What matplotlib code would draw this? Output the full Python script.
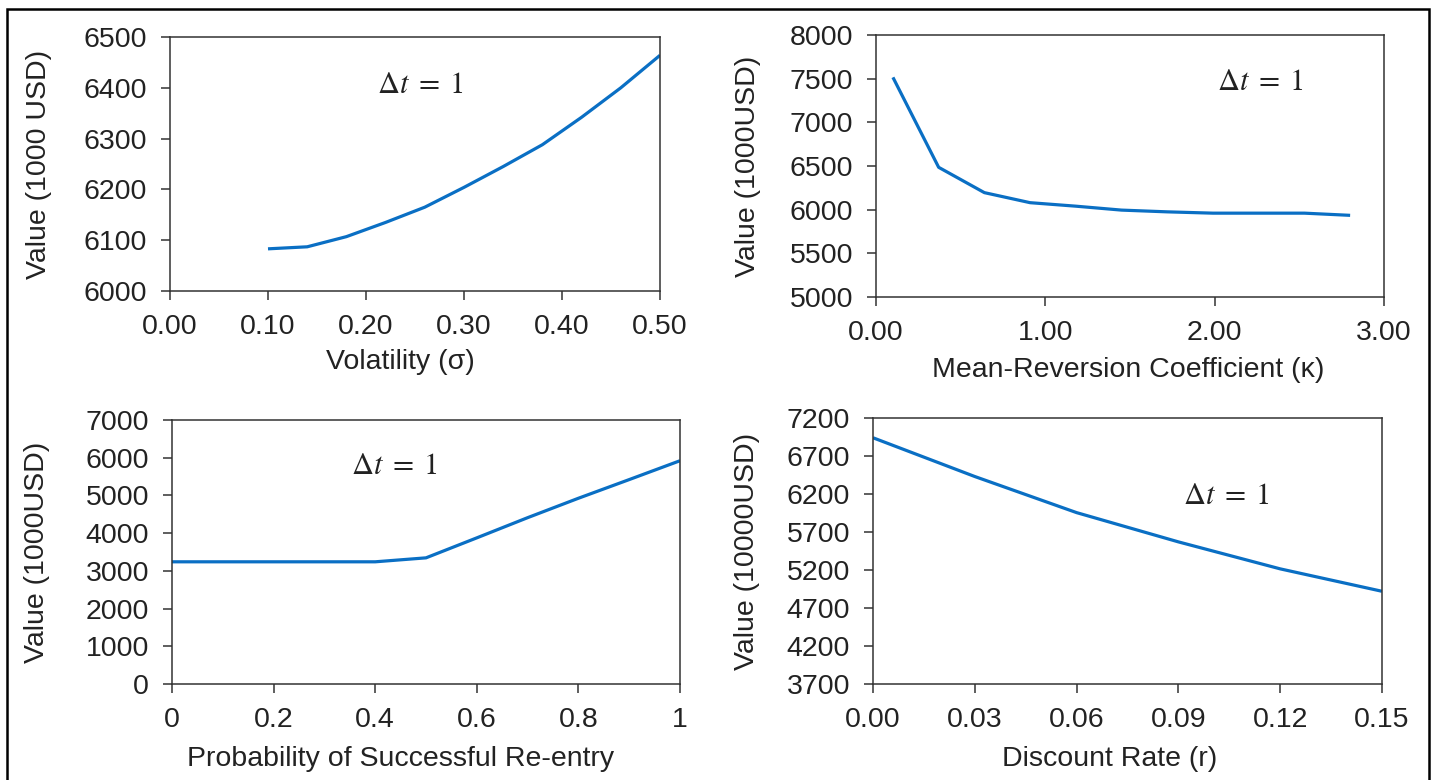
import matplotlib.pyplot as plt
from matplotlib.patches import Rectangle

plt.rcParams['font.family'] = ['Liberation Sans', 'DejaVu Sans']
plt.rcParams['mathtext.fontset'] = 'stix'

# volatility panel
sigma = [0.10, 0.14, 0.18, 0.22, 0.26, 0.30, 0.34, 0.38, 0.42, 0.46, 0.50]
val_sigma = [6083, 6087, 6107, 6135, 6165, 6204, 6245, 6288, 6342, 6400, 6464]

# mean reversion panel
kappa = [0.10, 0.37, 0.64, 0.91, 1.18, 1.45, 1.72, 1.99, 2.26, 2.53, 2.80]
val_kappa = [7515, 6485, 6195, 6080, 6040, 5995, 5975, 5960, 5960, 5960, 5935]

# re-entry probability panel
prob = [0.0, 0.1, 0.2, 0.3, 0.4, 0.5, 0.6, 0.7, 0.8, 0.9, 1.0]
val_prob = [3240, 3240, 3240, 3240, 3240, 3345, 3875, 4410, 4925, 5420, 5920]

# discount rate panel
rate = [0.00, 0.03, 0.06, 0.09, 0.12, 0.15]
val_rate = [6940, 6430, 5955, 5570, 5215, 4920]

blue = '#0a6fc4'
fs = 20.5

fig = plt.figure(figsize=(14.37, 7.8), dpi=100)

panels = [
    dict(rect=[170/1437, 1-291/780, 490/1437, 254/780], x=sigma, y=val_sigma,
         xlim=(0, 0.5), xticks=[0, 0.1, 0.2, 0.3, 0.4, 0.5], xfmt='{:.2f}',
         ylim=(6000, 6500), yticks=range(6000, 6501, 100),
         xlabel='Volatility (σ)', ylabel='Value (1000 USD)',
         xl=(0.47, -0.23), yl=(-0.24, 0.5), txt=(0.255, 6405)),
    dict(rect=[876/1437, 1-297/780, 508/1437, 262/780], x=kappa, y=val_kappa,
         xlim=(0, 3), xticks=[0, 1, 2, 3], xfmt='{:.2f}',
         ylim=(5000, 8000), yticks=range(5000, 8001, 500),
         xlabel='Mean-Reversion Coefficient (κ)', ylabel='Value (1000USD)',
         xl=(0.497, -0.23), yl=(-0.226, 0.5), txt=(2.27, 7467)),
    dict(rect=[172/1437, 1-684/780, 508/1437, 264/780], x=prob, y=val_prob,
         xlim=(0, 1), xticks=[0, 0.2, 0.4, 0.6, 0.8, 1], xfmt='{:g}',
         ylim=(0, 7000), yticks=range(0, 7001, 1000),
         xlabel='Probability of Successful Re-entry', ylabel='Value (1000USD)',
         xl=(0.45, -0.233), yl=(-0.24, 0.5), txt=(0.437, 5790)),
    dict(rect=[873/1437, 1-684/780, 509/1437, 266/780], x=rate, y=val_rate,
         xlim=(0, 0.15), xticks=[0, 0.03, 0.06, 0.09, 0.12, 0.15], xfmt='{:.2f}',
         ylim=(3700, 7200), yticks=range(3700, 7201, 500),
         xlabel='Discount Rate (r)', ylabel='Value (10000USD)',
         xl=(0.464, -0.232), yl=(-0.222, 0.5), txt=(0.104, 6168)),
]

for p in panels:
    ax = fig.add_axes(p['rect'])
    ax.plot(p['x'], p['y'], color=blue, lw=2.3, solid_capstyle='butt')
    ax.set_xlim(*p['xlim'])
    ax.set_ylim(*p['ylim'])
    ax.set_xticks(p['xticks'])
    ax.set_xticklabels([p['xfmt'].format(v) for v in p['xticks']])
    ax.set_yticks(list(p['yticks']))
    ax.tick_params(direction='out', length=6.5, width=1.1, color='#333333',
                   labelsize=fs, labelcolor='#222222')
    ax.tick_params(axis='x', pad=10)
    ax.tick_params(axis='y', pad=10)
    for s in ax.spines.values():
        s.set_color('#333333')
        s.set_linewidth(1.1)
    ax.set_xlabel(p['xlabel'], fontsize=fs, color='#222222')
    ax.set_ylabel(p['ylabel'], fontsize=fs, color='#222222')
    ax.xaxis.set_label_coords(*p['xl'])
    ax.yaxis.set_label_coords(*p['yl'])
    ax.text(p['txt'][0], p['txt'][1], r'$\Delta t\;=\;1$', fontsize=22,
            ha='center', va='center', color='#222222')

# outer frame of the picture
fig.patches.append(Rectangle((7/1437, -0.05), 1422/1437, 1.05 - 9/780,
                             transform=fig.transFigure, fill=False,
                             edgecolor='black', linewidth=1.8))

fig.savefig('out.png', dpi=100)
